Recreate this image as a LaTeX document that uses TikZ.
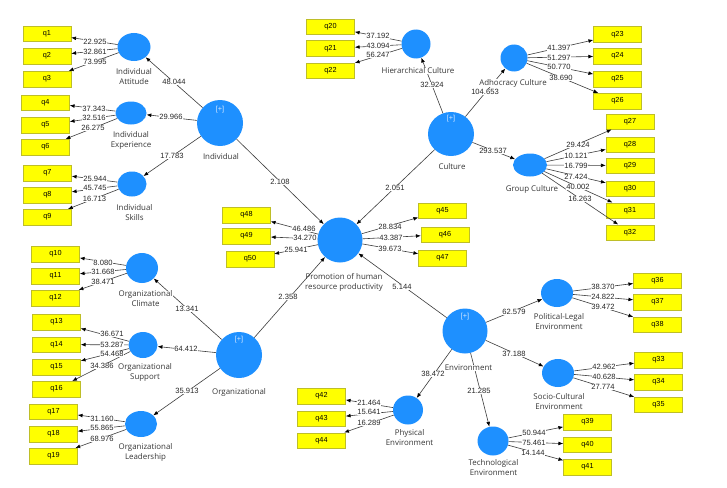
\documentclass[tikz,border=0pt]{standalone}
\usepackage{fontspec}
\setmainfont{Liberation Sans}
\newfontfamily\capfont{Open Sans}
\usetikzlibrary{shapes.geometric,arrows.meta}
\definecolor{plsblue}{RGB}{30,144,255}
\definecolor{boxyellow}{RGB}{255,255,0}
\definecolor{boxedge}{RGB}{190,190,40}
\definecolor{linegray}{RGB}{60,60,60}
\definecolor{captext}{RGB}{55,55,55}
\definecolor{plustext}{RGB}{215,233,255}
\begin{document}
\begin{tikzpicture}[x=1pt,y=-1pt,
  lv/.style={ellipse,fill=plsblue,draw=none,inner sep=0pt},
  ind/.style={rectangle,fill=boxyellow,draw=boxedge,line width=0.5pt,minimum width=48pt,minimum height=15.5pt,inner sep=0pt,font=\fontsize{7.3}{8}\selectfont},
  num/.style={fill=white,inner sep=0.4pt,font=\fontsize{7.6}{8}\selectfont,text=black!85},
  captxt/.style={fill=white,inner sep=0.3pt,align=center,text=captext,font=\capfont\fontsize{7.9}{10}\selectfont},
  captxtnf/.style={inner sep=0.3pt,align=center,text=captext,font=\capfont\fontsize{7.9}{10}\selectfont},
  plus/.style={text=plustext,font=\fontsize{7.3}{8}\selectfont,inner sep=0pt},
  arr/.style={draw=linegray,line width=0.6pt,-{Latex[length=4.8pt,width=3.8pt,color=black]}}]
\fill[white] (0,0) rectangle (727,487);
\useasboundingbox (0,0) rectangle (727,487);

% latent variables
\node[lv,minimum width=33pt,minimum height=28pt] (IA) at (134,47) {};
\node[lv,minimum width=31pt,minimum height=23pt] (IE) at (131,113) {};
\node[lv,minimum width=46pt,minimum height=46pt] (I) at (220,123) {};
\node[lv,minimum width=29pt,minimum height=25pt] (IS) at (132,184) {};
\node[lv,minimum width=45pt,minimum height=45pt] (P) at (340,240) {};
\node[lv,minimum width=46pt,minimum height=44pt] (C) at (451,134) {};
\node[lv,minimum width=29pt,minimum height=29pt] (HC) at (416,44) {};
\node[lv,minimum width=27pt,minimum height=27pt] (AC) at (514,58) {};
\node[lv,minimum width=34pt,minimum height=23pt] (GC) at (530,165) {};
\node[lv,minimum width=32pt,minimum height=30pt] (OC) at (142,268) {};
\node[lv,minimum width=29pt,minimum height=26pt] (OS) at (143,345) {};
\node[lv,minimum width=46pt,minimum height=46pt] (O) at (239,355) {};
\node[lv,minimum width=32pt,minimum height=26pt] (OL) at (141,424) {};
\node[lv,minimum width=45pt,minimum height=45pt] (E) at (465,331) {};
\node[lv,minimum width=32pt,minimum height=28pt] (PL) at (557,293) {};
\node[lv,minimum width=32pt,minimum height=28pt] (SC) at (558,373) {};
\node[lv,minimum width=30pt,minimum height=29pt] (PE) at (408,410) {};
\node[lv,minimum width=31pt,minimum height=29pt] (TE) at (493,441) {};

\node[plus] (Ip) at (220,110) {[+]};
\node[plus] (Cp) at (451,119) {[+]};
\node[plus] (Op) at (239,340) {[+]};
\node[plus] (Ep) at (465,317) {[+]};

% indicators
\node[ind] (q1) at (47,34) {q1};
\node[ind] (q2) at (47,56) {q2};
\node[ind] (q3) at (47,79) {q3};
\node[ind] (q4) at (45.5,102.5) {q4};
\node[ind] (q5) at (45.5,125) {q5};
\node[ind] (q6) at (45.5,147) {q6};
\node[ind] (q7) at (47.5,173) {q7};
\node[ind] (q8) at (47.5,195) {q8};
\node[ind] (q9) at (47.5,217) {q9};
\node[ind] (q10) at (55.5,254) {q10};
\node[ind] (q11) at (55.5,276) {q11};
\node[ind] (q12) at (55.5,298) {q12};
\node[ind] (q13) at (56.5,322) {q13};
\node[ind] (q14) at (56.5,344.5) {q14};
\node[ind] (q15) at (56.5,367) {q15};
\node[ind] (q16) at (56.5,389) {q16};
\node[ind] (q17) at (53.5,411.5) {q17};
\node[ind] (q18) at (53.5,434) {q18};
\node[ind] (q19) at (53.5,456) {q19};
\node[ind] (q20) at (330.5,27) {q20};
\node[ind] (q21) at (330.5,48.5) {q21};
\node[ind] (q22) at (330.5,70.5) {q22};
\node[ind] (q23) at (617.5,34.5) {q23};
\node[ind] (q24) at (617.5,56) {q24};
\node[ind] (q25) at (617.5,79) {q25};
\node[ind] (q26) at (617.5,101) {q26};
\node[ind] (q27) at (630,121.5) {q27};
\node[ind] (q28) at (630,144.5) {q28};
\node[ind] (q29) at (630,165.5) {q29};
\node[ind] (q30) at (630,188.5) {q30};
\node[ind] (q31) at (630,210.5) {q31};
\node[ind] (q32) at (630,232.5) {q32};
\node[ind] (q33) at (658.5,360) {q33};
\node[ind] (q34) at (658.5,382) {q34};
\node[ind] (q35) at (658.5,404.5) {q35};
\node[ind] (q36) at (657.5,280.5) {q36};
\node[ind] (q37) at (657.5,302) {q37};
\node[ind] (q38) at (657.5,324.5) {q38};
\node[ind] (q39) at (587.5,422) {q39};
\node[ind] (q40) at (587.5,444.5) {q40};
\node[ind] (q41) at (587.5,467) {q41};
\node[ind] (q42) at (321.5,396) {q42};
\node[ind] (q43) at (321.5,418.5) {q43};
\node[ind] (q44) at (321.5,440.5) {q44};
\node[ind] (q45) at (442.5,210.5) {q45};
\node[ind] (q46) at (445,234.5) {q46};
\node[ind] (q47) at (442.5,258) {q47};
\node[ind] (q48) at (246.5,215) {q48};
\node[ind] (q49) at (246.5,236) {q49};
\node[ind] (q50) at (250,259) {q50};

% outer model connectors
\foreach \s/\t in {IA/q1,IA/q2,IA/q3,IE/q4,IE/q5,IE/q6,IS/q7,IS/q8,IS/q9,
  OC/q10,OC/q11,OC/q12,OS/q13,OS/q14,OS/q15,OS/q16,OL/q17,OL/q18,OL/q19,
  HC/q20,HC/q21,HC/q22,AC/q23,AC/q24,AC/q25,AC/q26,
  GC/q27,GC/q28,GC/q29,GC/q30,GC/q31,GC/q32,
  SC/q33,SC/q34,SC/q35,PL/q36,PL/q37,PL/q38,TE/q39,TE/q40,TE/q41,
  PE/q42,PE/q43,PE/q44,P/q45,P/q46,P/q47,P/q48,P/q49,P/q50}
  \draw[arr] (\s) -- (\t);

% inner model connectors
\foreach \s/\t in {I/IA,I/IE,I/IS,I/P,C/HC,C/AC,C/GC,C/P,O/OC,O/OS,O/OL,
  E/PL,E/SC,E/PE,E/TE,E/P}
  \draw[arr] (\s) -- (\t);

% captions
\node[captxt] (cIA) at (134,77) {Individual\\Attitude};
\node[captxt] (cIE) at (131,140) {Individual\\Experience};
\node[captxt] (cI) at (221,157) {Individual};
\node[captxt] (cIS) at (134.5,213) {Individual\\Skills};
\node[captxtnf] (cP) at (344,282) {Promotion of human\\resource productivity};
\node[captxt] (cC) at (452,167) {Culture};
\node[captxt] (cHC) at (418,71) {Hierarchical Culture};
\node[captxt] (cAC) at (513,83) {Adhocracy Culture};
\node[captxt] (cGC) at (532,189) {Group Culture};
\node[captxt] (cOC) at (145.5,299) {Organizational\\Climate};
\node[captxt] (cOS) at (145,372) {Organizational\\Support};
\node[captxt] (cO) at (239,392) {Organizational};
\node[captxt] (cOL) at (145.5,452) {Organizational\\Leadership};
\node[captxt] (cE) at (468.5,368) {Environment};
\node[captxt] (cPL) at (559,322) {Political-Legal\\Environment};
\node[captxt] (cSC) at (559,402) {Socio-Cultural\\Environment};
\node[captxt] (cPE) at (409.5,438) {Physical\\Environment};
\node[captxt] (cTE) at (493.5,467.5) {Technological\\Environment};

\draw[arr] (O) -- (P);

% path labels
\foreach \n/\x/\y/\v in {
  a1/95/42/22.925, a2/95/52/32.861, a3/95/62/73.995,
  a4/94/109/37.343, a5/94/118/32.516, a6/93/128/26.275,
  a7/95/179/25.944, a8/95/188/45.745, a9/94.5/199/16.713,
  a10/103/263/8.080, a11/103/272/31.668, a12/103/282/38.471,
  a13/112/334/36.671, a14/112/345/53.287, a15/112/354/54.468, a16/102/366/34.386,
  a17/102/419/31.160, a18/102/428/55.865, a19/102/439/68.976,
  a20/378/36/37.192, a21/378/46/43.094, a22/378/55/56.247,
  a23/559/48/41.397, a24/559/58/51.297, a25/559/67/50.770, a26/561/78/38.690,
  a27/578/145/29.424, a28/576/156/10.121, a29/576/166/16.799, a30/576/177/27.424,
  a31/578/187/40.002, a32/580/199/16.263,
  a33/604/367/42.962, a34/604/377/40.628, a35/603/387/27.774,
  a36/603/287/38.370, a37/603/297/24.822, a38/603/307/39.472,
  a39/534/433/50.944, a40/534/443/75.461, a41/533/453/14.144,
  a42/369/403/21.464, a43/369/412/15.641, a44/369/423/16.289,
  a45/390/227/28.834, a46/391/238/43.387, a47/390/249/39.673,
  a48/304/229/46.486, a49/305/238/34.270, a50/296/250/25.941,
  bIA/174/82/48.044, bIE/171/117/29.966, bIS/172/156/17.783, bIP/280/182/2.108,
  bHC/432/85/32.924, bAC/485/92/104.653, bGC/493/151/293.537, bCP/395/188/2.051,
  bOC/187/309/13.341, bOS/186/349/64.412, bOL/187/391/35.913, bOP/288/297/2.358,
  bPL/514/312/62.579, bSC/514/354/37.188, bPE/433/374/38.472, bTE/479/391/21.285,
  bEP/402/287/5.144}
  \node[num] (\n) at (\x,\y) {\v};
\end{tikzpicture}
\end{document}
